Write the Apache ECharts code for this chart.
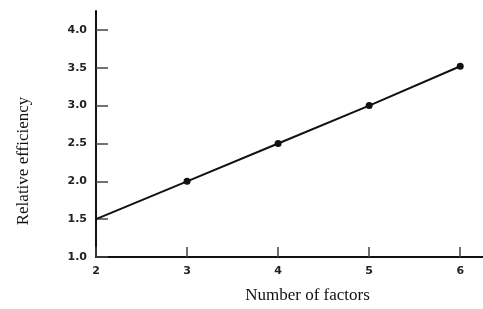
<!DOCTYPE html>
<html>
<head>
<meta charset="utf-8">
<script src="https://cdn.jsdelivr.net/npm/echarts@6/dist/echarts.min.js"></script>
<style>
  html, body { margin: 0; padding: 0; background: #fff; }
  #chart { width: 483px; height: 309px; }
</style>
</head>
<body>
<div id="chart"></div>
<script>
// values
const factors = [2, 3, 4, 5, 6]
const efficiency = [1.5, 2.0, 2.5, 3.0, 3.52]
const xTitle = 'Number of factors'
const yTitle = 'Relative efficiency'

const chart = echarts.init(document.getElementById('chart'))

const labelStyle = {
  color: '#222',
  fontFamily: 'DejaVu Sans',
  fontWeight: 'bold',
  fontSize: 11,
}
const nameStyle = {
  color: '#111',
  fontFamily: 'Liberation Serif',
  fontSize: 17,
}

chart.setOption({
  animation: false,
  grid: {
    left: 96,
    right: 0,
    top: 11,
    bottom: 47,
  },
  xAxis: {
    type: 'value',
    min: 2,
    max: 6.25,
    interval: 1,
    name: xTitle,
    nameLocation: 'middle',
    nameGap: 30,
    nameTextStyle: { ...nameStyle, padding: [0, 0, 0, 36] },
    axisLine: { lineStyle: { color: '#111', width: 2 } },
    axisTick: { inside: true, length: 10, lineStyle: { color: '#444', width: 1.5 } },
    axisLabel: { ...labelStyle, margin: 9, showMaxLabel: false },
    splitLine: { show: false },
  },
  yAxis: {
    type: 'value',
    min: 1,
    max: 4.25,
    interval: 0.5,
    name: yTitle,
    nameLocation: 'middle',
    nameGap: 64,
    nameTextStyle: { ...nameStyle, padding: [0, 54, 0, 0] },
    axisLine: { lineStyle: { color: '#111', width: 2 } },
    axisTick: { inside: true, length: 12, lineStyle: { color: '#444', width: 1.5 } },
    axisLabel: {
      ...labelStyle,
      margin: 9,
      showMaxLabel: false,
      formatter: v => v.toFixed(1),
    },
    splitLine: { show: false },
  },
  series: [
    {
      type: 'line',
      data: factors.map((f, i) => ({
        value: [f, efficiency[i]],
        symbol: i === 0 ? 'none' : 'circle',
      })),
      symbolSize: 7,
      lineStyle: { color: '#111', width: 2 },
      itemStyle: { color: '#111' },
    },
  ],
})
</script>
</body>
</html>
